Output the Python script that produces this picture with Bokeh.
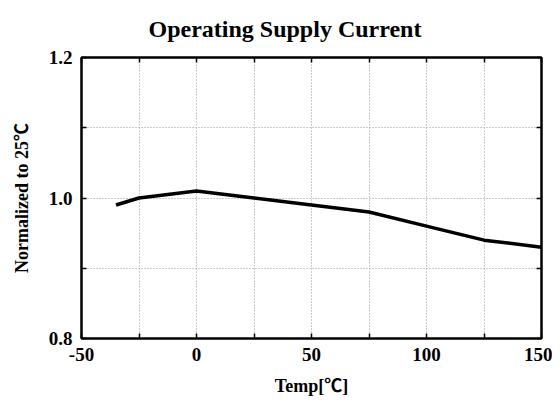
from bokeh.plotting import figure
from bokeh.models import FixedTicker, LinearAxis, PrintfTickFormatter, Range1d, CustomJSTickFormatter
from bokeh.embed import file_html
from bokeh.resources import INLINE

temp = [-35, -25, 0, 25, 50, 75, 100, 125, 150]
normalized = [0.99, 1.0, 1.01, 1.0, 0.99, 0.98, 0.96, 0.94, 0.93]

x_labeled_ticks = [-50, 0, 50, 100, 150]
x_minor_ticks = [-25, 25, 75, 125]
y_labeled_ticks = [0.8, 1.0, 1.2]
y_minor_ticks = [0.9, 1.1]

FONT = "Liberation Serif"
LABEL_FONT = "'Liberation Serif', 'Noto Sans CJK JP'"

p = figure(width=552, height=398, output_backend="svg", toolbar_location=None,
           x_range=Range1d(-50, 150), y_range=Range1d(0.8, 1.2),
           min_border_left=81, min_border_right=11, min_border_top=57, min_border_bottom=57)

p.title.text = "Operating Supply Current"
p.title.align = "left"
p.title.offset = 67
p.title.vertical_align = "top"
p.title.text_font = FONT
p.title.text_font_size = "24px"
p.title.text_font_style = "bold"
p.title.text_color = "black"
p.title.standoff = 27

p.line(temp, normalized, line_color="black", line_width=3.5)

p.outline_line_color = "black"
p.outline_line_width = 2
p.background_fill_color = "white"
p.border_fill_color = "white"

def style_axis(ax, ticks, minor, show_labels):
    ax.ticker = FixedTicker(ticks=ticks, minor_ticks=minor)
    ax.axis_line_color = "black"
    ax.axis_line_width = 2
    ax.major_tick_in = 5
    ax.major_tick_out = 0
    ax.minor_tick_in = 5
    ax.minor_tick_out = 0
    ax.major_tick_line_color = "black"
    ax.minor_tick_line_color = "black"
    ax.major_tick_line_width = 1.5
    ax.minor_tick_line_width = 1.5
    ax.major_label_text_font = FONT
    ax.major_label_text_font_style = "bold"
    ax.major_label_text_font_size = "19px"
    ax.major_label_text_color = "black"
    ax.axis_label_text_font = LABEL_FONT
    ax.axis_label_text_font_style = "bold"
    ax.axis_label_text_font_size = "18px"
    ax.axis_label_text_color = "black"
    if not show_labels:
        ax.formatter = CustomJSTickFormatter(code="return ''")
        ax.major_label_standoff = 0

xa = p.xaxis[0]
style_axis(xa, x_labeled_ticks, x_minor_ticks, True)
xa.formatter = PrintfTickFormatter(format="%d")
xa.axis_label = "Temp[℃]"
xa.major_label_standoff = 9
xa.axis_label_standoff = 12

ya = p.yaxis[0]
style_axis(ya, y_labeled_ticks, y_minor_ticks, True)
ya.formatter = PrintfTickFormatter(format="%.1f")
ya.axis_label = "Normalized to 25℃"
ya.major_label_standoff = 9
ya.axis_label_standoff = 14

top = LinearAxis()
style_axis(top, x_labeled_ticks, x_minor_ticks, False)
p.add_layout(top, "above")

right = LinearAxis()
style_axis(right, y_labeled_ticks, y_minor_ticks, False)
p.add_layout(right, "right")

p.xgrid.ticker = FixedTicker(ticks=x_minor_ticks + [0, 50, 100])
p.ygrid.ticker = FixedTicker(ticks=y_minor_ticks + [1.0])
for g in (p.xgrid[0], p.ygrid[0]):
    g.grid_line_color = "#999999"
    g.grid_line_dash = "1 2"
    g.grid_line_width = 1

open("out.html", "w").write(file_html(p, INLINE))
